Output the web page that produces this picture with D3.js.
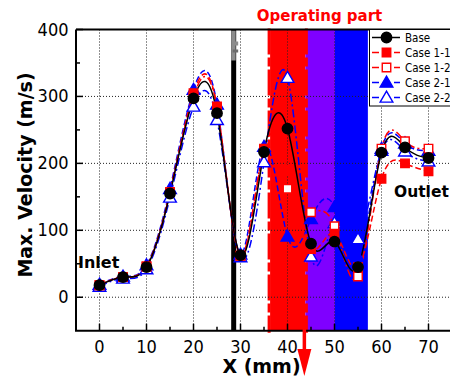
<!DOCTYPE html>
<html>
<head>
<meta charset="utf-8">
<script src="https://cdn.jsdelivr.net/npm/d3@7"></script>
<style>
  html, body { margin: 0; padding: 0; background: #fff; }
  svg { display: block; }
</style>
</head>
<body>
<svg id="chart" width="450" height="376"></svg>
<script>
// Sampling positions along the channel (mm)
const positions = [0, 5, 10, 15, 20, 25, 30, 35, 40, 45, 50, 55, 60, 65, 70];

// Maximum velocity (m/s) at each position for every configuration
const baseVel   = [18, 30, 45, 155, 297, 275, 63, 217, 252, 80, 83, 45, 216, 224, 208];
const case11Vel = [18, 30, 46, 157, 305, 285, 62, 222, 190, 72, 95, 45, 177, 200, 188];
const case12Vel = [18, 30, 46, 157, 300, 283, 62, 220, 162, 127, 106, 31, 222, 233, 222];
const case21Vel = [19, 31, 48, 162, 310, 288, 64, 225, 91, 117, 135, 60, 222, 230, 219];
const case22Vel = [16, 28, 42, 149, 285, 265, 60, 202, 328, 61, 111, 87, 219, 218, 203];

const seriesNames = ["Base", "Case 1-1", "Case 1-2", "Case 2-1", "Case 2-2"];

// Axis ticks
const xMajorTicks = [0, 10, 20, 30, 40, 50, 60, 70];
const xMinorTicks = [5, 15, 25, 35, 45, 55, 65];
const yMajorTicks = [0, 100, 200, 300, 400];
const yMinorTicks = [50, 150, 250, 350];

// Highlighted zones of the operating part (mm)
const zoneStarts = [36.3, 43.8, 50.1];
const zoneEnds   = [43.8, 50.1, 57.1];
const zoneColors = ["#ff0000", "#7f00ff", "#0000ff"];
const wallX = 28.55;

const svg = d3.select("#chart");
const pLeft = 76, pRight = 452, pTop = 29.5, pBottom = 330.7;

const x = d3.scaleLinear().domain([-5, 75]).range([pLeft, pRight]);
const y = d3.scaleLinear().domain([-50, 400]).range([pBottom, pTop]);

const numFont = "'DejaVu Sans Condensed', 'DejaVu Sans', sans-serif";
const boldFont = "'DejaVu Sans', sans-serif";

// Zone bands
const zones = zoneStarts.map((s, i) => ({ s, e: zoneEnds[i], c: zoneColors[i] }));
svg.append("g").selectAll("rect").data(zones).join("rect")
  .attr("x", d => x(d.s)).attr("y", pTop)
  .attr("width", d => x(d.e) - x(d.s)).attr("height", pBottom - pTop)
  .attr("fill", d => d.c);
// Ragged edges of the red zone
const redZone = zones[0];
[redZone.s, redZone.e].forEach((v, i) => {
  svg.append("line")
    .attr("x1", x(v) + (i ? 1 : -1)).attr("x2", x(v) + (i ? 1 : -1))
    .attr("y1", pTop - 1).attr("y2", pBottom + 2)
    .attr("stroke", "#ff0000").attr("stroke-width", 3)
    .attr("stroke-dasharray", "26,3,9,3");
});

// Grid lines
const grid = svg.append("g").attr("stroke", "#222").attr("stroke-width", 1)
  .attr("stroke-dasharray", "1,2");
grid.selectAll(".gx").data(xMajorTicks).join("line")
  .attr("x1", d => x(d)).attr("x2", d => x(d))
  .attr("y1", pTop).attr("y2", pBottom);
grid.selectAll(".gy").data(yMajorTicks).join("line")
  .attr("x1", pLeft).attr("x2", pRight)
  .attr("y1", d => y(d)).attr("y2", d => y(d));

// Wall marker
svg.append("rect").attr("x", x(wallX) - 2.5).attr("y", pTop)
  .attr("width", 5).attr("height", pBottom - pTop).attr("fill", "#000");
svg.append("rect").attr("x", x(wallX) - 2.5).attr("y", pTop + 1)
  .attr("width", 4.5).attr("height", 30).attr("fill", "#8c8c8c");
svg.append("rect").attr("x", x(wallX) - 1).attr("y", pTop + 12)
  .attr("width", 5.5).attr("height", 4).attr("fill", "#8c8c8c");
svg.append("rect").attr("x", x(wallX) - 1).attr("y", pTop + 20)
  .attr("width", 5.5).attr("height", 3).attr("fill", "#6c6c6c");

// Series
const series = [
  { name: seriesNames[0], v: baseVel,   color: "#000",    dash: null,      shape: "circle",   filled: true },
  { name: seriesNames[1], v: case11Vel, color: "#ff0000", dash: "6,3",     shape: "square",   filled: true },
  { name: seriesNames[2], v: case12Vel, color: "#ff0000", dash: "8,3,2,3", shape: "square",   filled: false },
  { name: seriesNames[3], v: case21Vel, color: "#0000ff", dash: "6,3",     shape: "triangle", filled: true },
  { name: seriesNames[4], v: case22Vel, color: "#0000ff", dash: "8,3,2,3", shape: "triangle", filled: false }
];

const line = d3.line().x(d => x(d[0])).y(d => y(d[1])).curve(d3.curveNatural);

function symbolPath(shape) {
  if (shape === "circle") return d3.symbol(d3.symbolCircle, 85)();
  if (shape === "square") return d3.symbol(d3.symbolSquare, 72)();
  return d3.symbol(d3.symbolTriangle, 70)();
}

const plot = svg.append("g");
series.slice().reverse().forEach(s => {
  const pts = positions.map((p, i) => [p, s.v[i]]);
  plot.append("path").datum(pts).attr("d", line)
    .attr("fill", "none").attr("stroke", s.color).attr("stroke-width", 1.5)
    .attr("stroke-dasharray", s.dash);
});
series.slice().reverse().forEach(s => {
  const pts = positions.map((p, i) => [p, s.v[i]]);
  plot.append("g").selectAll("path").data(pts).join("path")
    .attr("d", symbolPath(s.shape))
    .attr("transform", d => `translate(${x(d[0])},${y(d[1]) + (s.shape === "triangle" ? 1 : 0)})`)
    .attr("fill", s.filled ? s.color : "#fff")
    .attr("stroke", s.color).attr("stroke-width", 1.4);
});

// Frame and ticks
svg.append("path")
  .attr("d", `M${pLeft},${pTop}H${pRight + 10}M${pLeft},${pTop}V${pBottom}H${pRight + 10}`)
  .attr("fill", "none").attr("stroke", "#000").attr("stroke-width", 2);
const ticks = svg.append("g").attr("stroke", "#000").attr("stroke-width", 1.5);
ticks.selectAll(".xt").data(xMajorTicks).join("line")
  .attr("x1", d => x(d)).attr("x2", d => x(d)).attr("y1", pBottom).attr("y2", pBottom - 7);
ticks.selectAll(".xm").data(xMinorTicks).join("line")
  .attr("x1", d => x(d)).attr("x2", d => x(d)).attr("y1", pBottom).attr("y2", pBottom - 4);
ticks.selectAll(".yt").data(yMajorTicks).join("line")
  .attr("x1", pLeft).attr("x2", pLeft + 7).attr("y1", d => y(d)).attr("y2", d => y(d));
ticks.selectAll(".ym").data(yMinorTicks).join("line")
  .attr("x1", pLeft).attr("x2", pLeft + 4).attr("y1", d => y(d)).attr("y2", d => y(d));

// Tick labels
svg.append("g").selectAll("text").data(xMajorTicks).join("text")
  .attr("x", d => x(d)).attr("y", 353).attr("text-anchor", "middle")
  .attr("font-family", numFont).attr("font-size", 18).attr("fill", "#000")
  .text(d => d);
svg.append("g").selectAll("text").data(yMajorTicks).join("text")
  .attr("x", 68.5).attr("y", d => y(d) + 6).attr("text-anchor", "end")
  .attr("font-family", numFont).attr("font-size", 18).attr("fill", "#000")
  .text(d => d);

// Axis titles
svg.append("text").attr("transform", "translate(32,175) rotate(-90)")
  .attr("text-anchor", "middle").attr("font-family", boldFont)
  .attr("font-weight", "bold").attr("font-size", 19).text("Max. Velocity (m/s)");
svg.append("text").attr("x", 261.5).attr("y", 373).attr("text-anchor", "middle")
  .attr("font-family", boldFont).attr("font-weight", "bold").attr("font-size", 19)
  .text("X (mm)");

// Annotations
svg.append("text").attr("x", 78).attr("y", 268).attr("font-family", boldFont)
  .attr("font-weight", "bold").attr("font-size", 16).text("Inlet");
svg.append("text").attr("x", 394).attr("y", 197).attr("font-family", boldFont)
  .attr("font-weight", "bold").attr("font-size", 15.5).text("Outlet");
svg.append("text").attr("x", 319.5).attr("y", 20.5).attr("text-anchor", "middle")
  .attr("font-family", boldFont).attr("font-weight", "bold").attr("font-size", 15)
  .attr("fill", "#ff0000").text("Operating part");

// Outlet direction arrow of the operating part
const arrowX = x(zoneEnds[0]) - 1;
svg.append("line").attr("x1", arrowX).attr("x2", arrowX)
  .attr("y1", pBottom - 5).attr("y2", 350)
  .attr("stroke", "#ff0000").attr("stroke-width", 3.5);
svg.append("path")
  .attr("d", `M${arrowX - 7},349L${arrowX + 7},349L${arrowX},376Z`)
  .attr("fill", "#ff0000");

// Legend
const lg = svg.append("g");
lg.append("rect").attr("x", 369.5).attr("y", pTop).attr("width", 90).attr("height", 76.5)
  .attr("fill", "#fff").attr("stroke", "#000").attr("stroke-width", 1);
series.forEach((s, i) => {
  const cy = 37.5 + i * 15;
  lg.append("line").attr("x1", 372).attr("x2", 400).attr("y1", cy).attr("y2", cy)
    .attr("stroke", s.color).attr("stroke-width", 1.5)
    .attr("stroke-dasharray", s.dash ? "7,4" : null);
  lg.append("path").attr("d", symbolPath(s.shape))
    .attr("transform", `translate(386.5,${cy + (s.shape === "triangle" ? 1 : 0)})`)
    .attr("fill", s.filled ? s.color : "#fff").attr("stroke", s.color).attr("stroke-width", 1.4);
  lg.append("text").attr("x", 405).attr("y", cy + 4).attr("font-family", numFont)
    .attr("font-size", 11.5).attr("fill", "#000").text(s.name);
});
</script>
</body>
</html>
